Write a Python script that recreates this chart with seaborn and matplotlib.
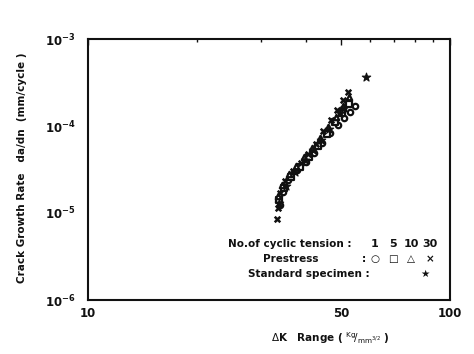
import matplotlib
matplotlib.use("Agg")
import matplotlib.pyplot as plt
import seaborn as sns
import pandas as pd
from matplotlib.ticker import FixedLocator, FixedFormatter, LogLocator, NullFormatter

sns.set_style("white")
plt.rcParams['font.family'] = ['DejaVu Sans']

# ---- data ----
x_c1 = [33.9, 34.6, 35.7, 37.8, 40.0, 42.1, 44.3, 46.6, 49.05, 51.0, 52.9, 54.7]
y_c1 = [1.24e-5, 1.74e-5, 2.39e-5, 3.12e-5, 3.86e-5, 4.89e-5, 6.37e-5, 8.31e-5, 1.03e-4, 1.24e-4, 1.45e-4, 1.70e-4]

x_c5 = [33.7, 34.8, 36.4, 38.5, 40.8, 43.2, 45.8, 48.1, 50.3, 52.5]
y_c5 = [1.41e-5, 1.93e-5, 2.59e-5, 3.38e-5, 4.40e-5, 5.89e-5, 8.1e-5, 1.11e-4, 1.41e-4, 1.79e-4]

x_c10 = [33.5, 34.35, 35.9, 37.55, 39.5, 41.6, 43.7, 46.0, 48.4, 50.6, 52.5]
y_c10 = [1.57e-5, 2.10e-5, 2.81e-5, 3.47e-5, 4.40e-5, 5.59e-5, 7.28e-5, 9.74e-5, 1.27e-4, 1.70e-4, 2.15e-4]

x_c30 = [33.2, 33.5, 33.9, 35.0, 36.8, 38.8, 40.5, 42.6, 44.7, 46.9, 48.7, 50.6, 52.3]
y_c30 = [8.5e-6, 1.14e-5, 1.70e-5, 2.34e-5, 3.05e-5, 3.77e-5, 4.77e-5, 6.2e-5, 8.8e-5, 1.17e-4, 1.53e-4, 1.99e-4, 2.46e-4]

x_std = [33.7, 35.2, 37.3, 39.7, 41.8, 44.0, 46.3, 49.7, 51.0, 58.6]
y_std = [1.30e-5, 2.05e-5, 2.98e-5, 4.07e-5, 5.30e-5, 6.9e-5, 9.2e-5, 1.41e-4, 1.61e-4, 3.66e-4]

x_ticks = [10, 50, 100]
x_tick_labels = ["10", "50", "100"]
y_ticks = [1e-6, 1e-5, 1e-4, 1e-3]

W, H = 474, 354
fig = plt.figure(figsize=(W / 100, H / 100), dpi=100)
ax = fig.add_axes([88 / W, 1 - 300 / H, (450 - 88) / W, (300 - 39) / H])

ink = "#111111"
series = [
    (x_c1, y_c1, "o", "white"),
    (x_c5, y_c5, "s", "white"),
    (x_c10, y_c10, "^", "white"),
]
for xs, ys, m, fc in series:
    sns.scatterplot(x=xs, y=ys, marker=m, s=15, facecolor=fc, edgecolor=ink,
                    linewidth=1.6, ax=ax, zorder=3)
sns.scatterplot(x=x_c30, y=y_c30, marker="x", s=16, color=ink, linewidth=1.8, ax=ax, zorder=4)
sns.scatterplot(x=x_std, y=y_std, marker="*", s=40, color=ink, edgecolor=ink,
                linewidth=0.8, ax=ax, zorder=4)

ax.set_xscale("log")
ax.set_yscale("log")
ax.set_xlim(10, 100)
ax.set_ylim(1e-6, 1e-3)

ax.xaxis.set_major_locator(FixedLocator(x_ticks))
ax.xaxis.set_major_formatter(FixedFormatter(x_tick_labels))
ax.xaxis.set_minor_locator(LogLocator(base=10, subs=range(2, 10)))
ax.xaxis.set_minor_formatter(NullFormatter())
ax.yaxis.set_major_locator(FixedLocator(y_ticks))
ax.yaxis.set_minor_locator(plt.NullLocator())

ax.tick_params(axis="both", which="both", direction="in", top=True, right=False,
               color=ink, width=1.0)
ax.tick_params(axis="both", which="major", length=4)
ax.tick_params(axis="both", which="minor", length=2.5)
ax.tick_params(axis="x", which="major", pad=5, labelsize=8.5, labelcolor=ink)
ax.tick_params(axis="y", which="major", pad=9, labelsize=8.5, labelcolor=ink)
for lab in ax.get_xticklabels() + ax.get_yticklabels():
    lab.set_fontweight("bold")

for sp in ax.spines.values():
    sp.set_visible(True)
    sp.set_linewidth(1.5)
    sp.set_color(ink)

# axis labels
fig.text(22 / W, 1 - 168 / H, "Crack Growth Rate   da/dn  (mm/cycle )",
         rotation=90, ha="center", va="center", fontsize=7.5, fontweight="bold", color=ink)
fig.text(330 / W, 1 - 338 / H, r"$\Delta$K   Range ( $^{\mathrm{Kg}}\!/_{\mathrm{mm}^{3/2}}$ )",
         ha="center", va="center", fontsize=7.5, fontweight="bold", color=ink)

# legend text
fs = 7.5
fig.text(228 / W, 1 - 244 / H, "No.of cyclic tension :", ha="left", va="center",
         fontsize=fs, fontweight="bold", color=ink)
fig.text(263 / W, 1 - 259 / H, "Prestress", ha="left", va="center",
         fontsize=fs, fontweight="bold", color=ink)
fig.text(362 / W, 1 - 259 / H, ":", ha="left", va="center",
         fontsize=fs, fontweight="bold", color=ink)
fig.text(248 / W, 1 - 274 / H, "Standard specimen :", ha="left", va="center",
         fontsize=fs, fontweight="bold", color=ink)
for xp, t in zip([375, 393, 411, 430], ["1", "5", "10", "30"]):
    fig.text(xp / W, 1 - 244 / H, t, ha="center", va="center",
             fontsize=fs + 0.5, fontweight="bold", color=ink)
for xp, t in zip([375, 393, 411, 430], ["○", "□", "△", "×"]):
    fig.text(xp / W, 1 - 259 / H, t, ha="center", va="center",
             fontsize=fs, fontweight="bold", color=ink)
fig.text(425 / W, 1 - 274 / H, "★", ha="center", va="center",
         fontsize=fs, color=ink)

fig.savefig("out.png", dpi=100)
